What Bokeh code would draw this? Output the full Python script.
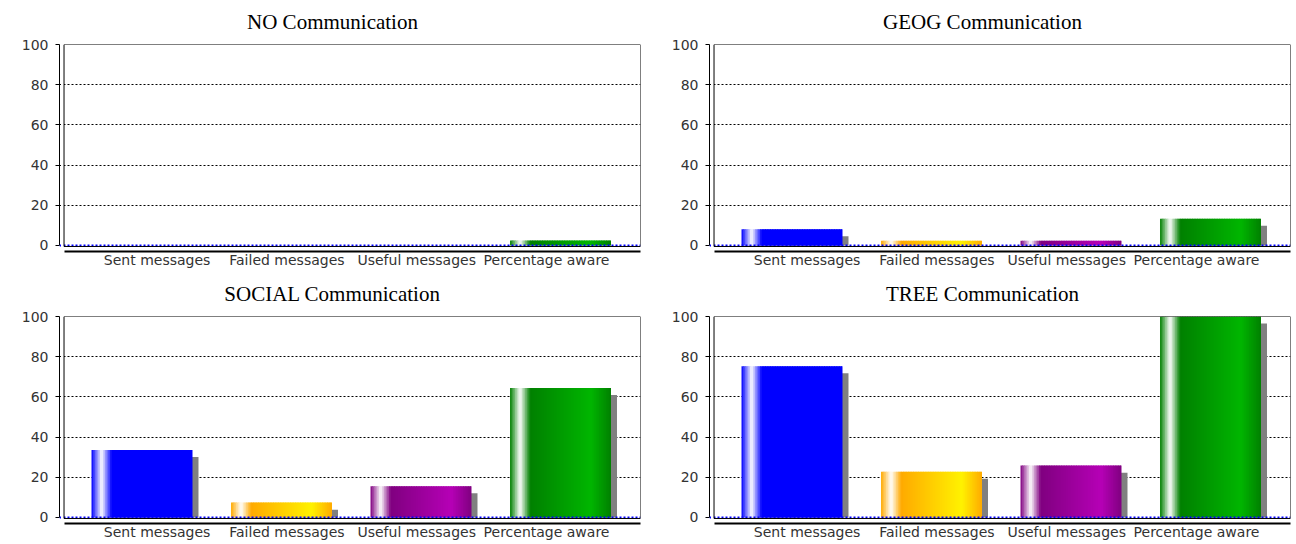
from bokeh.plotting import figure
from bokeh.layouts import gridplot
from bokeh.models import Range1d, LinearAxis, FixedTicker, Span, BoxAnnotation, ColumnDataSource
from bokeh.embed import file_html
from bokeh.resources import INLINE

# ---------------- data ----------------
CATEGORIES = ["Sent messages", "Failed messages", "Useful messages", "Percentage aware"]
TITLES = ["NO Communication", "GEOG Communication", "SOCIAL Communication", "TREE Communication"]
NO_COMM = [0, 0, 0, 2.5]
GEOG_COMM = [8.1, 2.4, 2.4, 13.3]
SOCIAL_COMM = [33.6, 7.4, 15.5, 64.4]
TREE_COMM = [75.3, 22.8, 25.8, 100]
Y_TICKS = [0, 20, 40, 60, 80, 100]
GRID_TICKS = [20, 40, 60, 80]
BAR_COLORS = ["#0000ff", "#ffaa00", "#800080", "#008000"]
SHADOW_COLOR = "#808080"

# ---------------- layout / style constants ----------------
X_START, X_END = -0.5914, 3.5735      # bar index units
PX_X = 139.5                           # px per category
BOX_LEFT = -0.559
LAB_START, LAB_END = -0.752, 3.724     # label axis range
LAB_BOX_LEFT = -0.717
Y_START, Y_END = -3.0, 100
BAR_W = 0.724
SH_DX = 6 / PX_X
SH_DY = 3.5
N_STRIPS = 60
TITLE_CENTER = 273                     # px from frame left
TITLE_SIZE = 21
SANS = "DejaVu Sans"
SERIF = "Liberation Serif"
# Times-compatible advance widths (em) used to centre the title text
SERIF_W = {" ": .25, "A": .722, "C": .667, "E": .611, "G": .722, "I": .333, "L": .611,
           "N": .722, "O": .722, "R": .667, "S": .556, "T": .611, "a": .444, "c": .444,
           "i": .278, "m": .778, "n": .5, "o": .5, "t": .278, "u": .5}


def hex_rgb(h):
    h = h.lstrip("#")
    return tuple(int(h[i:i + 2], 16) for i in (0, 2, 4))


def brighter(c):
    i = 3
    r, g, b = c
    if r == g == b == 0:
        return (i, i, i)
    out = []
    for v in c:
        if 0 < v < i:
            v = i
        out.append(min(int(v / 0.7), 255))
    return tuple(out)


def mix(a, b, t):
    return tuple(int(round(a[j] + (b[j] - a[j]) * t)) for j in range(3))


def grad(t, c0, c1):
    w = (255, 255, 255)
    if t < 0.1:
        c = mix(c0, w, t / 0.1)
    elif t < 0.2:
        c = mix(w, c0, (t - 0.1) / 0.1)
    elif t < 0.8:
        c = mix(c0, c1, (t - 0.2) / 0.6)
    else:
        c = mix(c1, c0, (t - 0.8) / 0.2)
    return "#%02x%02x%02x" % c


def bar_sources(values):
    sl, sr, st, sc = [], [], [], []
    hl, hr, ht = [], [], []
    step = BAR_W / N_STRIPS
    for i, v in enumerate(values):
        if v <= 0:
            continue
        c0 = hex_rgb(BAR_COLORS[i])
        c1 = brighter(c0)
        x0 = i - BAR_W / 2
        for k in range(N_STRIPS):
            t = (k + 0.5) / N_STRIPS
            l = x0 + k * step
            r = x0 + (k + 1) * step + (step * 0.6 if k < N_STRIPS - 1 else 0)
            sl.append(l); sr.append(r); st.append(v); sc.append(grad(t, c0, c1))
        stop = v - SH_DY
        if stop > 0:
            hl.append(x0 + SH_DX); hr.append(x0 + BAR_W + SH_DX); ht.append(stop)
    bars = ColumnDataSource(dict(left=sl, right=sr, top=st, bottom=[0] * len(sl), color=sc))
    shadows = ColumnDataSource(dict(left=hl, right=hr, top=ht, bottom=[0] * len(hl)))
    return bars, shadows


def make_panel(title, values, col, row):
    p = figure(
        frame_width=581, frame_height=207,
        min_border_left=59, min_border_right=(10 if col == 0 else 6),
        min_border_top=44, min_border_bottom=21,
        x_range=Range1d(X_START, X_END), y_range=Range1d(Y_START, Y_END),
        output_backend="svg", toolbar_location=None, tools="",
        x_axis_location=None, title=title,
    )
    p.extra_x_ranges = {"lab": Range1d(LAB_START, LAB_END)}
    p.outline_line_color = None
    p.background_fill_color = "white"
    p.border_fill_color = "white"

    text_w = sum(SERIF_W.get(ch, 0.5) for ch in title) * TITLE_SIZE
    p.title.align = "left"
    p.title.offset = TITLE_CENTER - text_w / 2
    p.title.vertical_align = "top"
    p.title.standoff = 18
    p.title.text_font = SERIF
    p.title.text_font_size = "%dpx" % TITLE_SIZE
    p.title.text_font_style = "normal"
    p.title.text_color = "black"

    ya = p.yaxis[0]
    ya.ticker = FixedTicker(ticks=Y_TICKS)
    ya.bounds = (0, 100)
    ya.major_tick_out = 4
    ya.major_tick_in = 0
    ya.minor_tick_out = 0
    ya.minor_tick_in = 0
    ya.major_label_standoff = 7
    ya.major_label_text_font = SANS
    ya.major_label_text_font_size = "14px"
    ya.major_label_text_color = "#333333"
    ya.axis_line_color = "black"
    ya.major_tick_line_color = "black"

    xa = LinearAxis(
        x_range_name="lab",
        ticker=FixedTicker(ticks=list(range(len(CATEGORIES)))),
        major_label_overrides={i: c for i, c in enumerate(CATEGORIES)},
        bounds=(LAB_BOX_LEFT, LAB_END),
    )
    xa.major_tick_out = 0
    xa.major_tick_in = 0
    xa.minor_tick_out = 0
    xa.minor_tick_in = 0
    xa.axis_line_width = 2
    xa.axis_line_color = "black"
    xa.major_label_standoff = 0
    xa.major_label_text_font = SANS
    xa.major_label_text_font_size = "14px"
    xa.major_label_text_color = "#333333"
    p.add_layout(xa, "below")

    p.xgrid.visible = False
    p.ygrid.ticker = FixedTicker(ticks=GRID_TICKS)
    p.ygrid.grid_line_color = "black"
    p.ygrid.grid_line_dash = "2 2"
    p.ygrid.grid_line_width = 1

    bars, shadows = bar_sources(values)
    p.quad(left="left", right="right", top="top", bottom="bottom", source=shadows,
           fill_color=SHADOW_COLOR, line_color=None)
    p.quad(left="left", right="right", top="top", bottom="bottom", source=bars,
           fill_color="color", line_color=None)

    p.add_layout(Span(location=0, dimension="width", line_color="#0000ff",
                      line_dash="2 2", line_width=2))
    # blank strip between the y axis and the plot box
    p.add_layout(BoxAnnotation(left=X_START + 1.5 / PX_X, right=BOX_LEFT, top=Y_END, bottom=Y_START,
                               fill_color="white", fill_alpha=1, line_alpha=0))
    # plot box outline
    p.add_layout(BoxAnnotation(left=BOX_LEFT, top=Y_END, bottom=-0.5,
                               fill_color=None, line_color="black", line_alpha=1, line_width=1))
    return p


panels = []
for idx, vals in enumerate([NO_COMM, GEOG_COMM, SOCIAL_COMM, TREE_COMM]):
    panels.append(make_panel(TITLES[idx], vals, idx % 2, idx // 2))

layout = gridplot([[panels[0], panels[1]], [panels[2], panels[3]]], toolbar_location=None)

open("out.html", "w").write(file_html(layout, INLINE))
